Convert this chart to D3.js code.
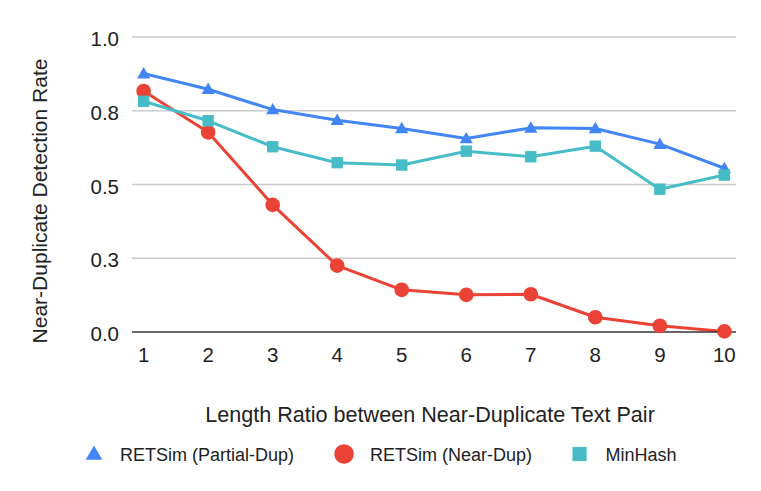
<!DOCTYPE html>
<html>
<head>
<meta charset="utf-8">
<script src="https://cdn.jsdelivr.net/npm/d3@7"></script>
<style>
  body { margin: 0; background: #fff; }
  text { font-family: "Liberation Sans", Arial, sans-serif; fill: #222; }
</style>
</head>
<body>
<div id="chart"></div>
<script>
const ratios = [1, 2, 3, 4, 5, 6, 7, 8, 9, 10];
const partialDup = [0.876, 0.823, 0.754, 0.718, 0.690, 0.656, 0.692, 0.690, 0.637, 0.555];
const nearDup = [0.817, 0.677, 0.431, 0.225, 0.143, 0.126, 0.128, 0.050, 0.021, 0.002];
const minHash = [0.782, 0.716, 0.628, 0.574, 0.566, 0.613, 0.594, 0.630, 0.484, 0.532];
const yTicks = [0, 0.25, 0.5, 0.75, 1.0];
const seriesNames = ["RETSim (Partial-Dup)", "RETSim (Near-Dup)", "MinHash"];

const series = [
  { name: seriesNames[0], values: partialDup, color: "#4285f4", shape: "triangle" },
  { name: seriesNames[1], values: nearDup, color: "#ea4335", shape: "circle" },
  { name: seriesNames[2], values: minHash, color: "#46bdc6", shape: "square" },
];

const width = 761, height = 491;
const margin = { top: 37, right: 25, bottom: 159, left: 132 };
const innerW = width - margin.left - margin.right;
const innerH = height - margin.top - margin.bottom;

const svg = d3.select("#chart").append("svg")
  .attr("width", width).attr("height", height);

const g = svg.append("g")
  .attr("transform", `translate(${margin.left},${margin.top})`);

const x = d3.scaleLinear().domain([0.82, 10.18]).range([0, innerW]);
const y = d3.scaleLinear().domain([0, 1]).range([innerH, 0]);

// gridlines
g.selectAll("line.grid")
  .data(yTicks.filter(d => d > 0))
  .join("line")
  .attr("class", "grid")
  .attr("x1", 0).attr("x2", innerW)
  .attr("y1", d => y(d)).attr("y2", d => y(d))
  .attr("stroke", "#cccccc").attr("stroke-width", 1.5);

// y tick labels
g.selectAll("text.ytick")
  .data(yTicks)
  .join("text")
  .attr("class", "ytick")
  .attr("x", -13)
  .attr("y", d => y(d))
  .attr("dy", "0.45em")
  .attr("text-anchor", "end")
  .style("font-size", "20.5px")
  .text(d => d3.format(".1f")(d));

// x tick labels
g.selectAll("text.xtick")
  .data(ratios)
  .join("text")
  .attr("class", "xtick")
  .attr("x", d => x(d))
  .attr("y", innerH + 30)
  .attr("text-anchor", "middle")
  .style("font-size", "20.5px")
  .text(d => d);

const line = d3.line()
  .x((d, i) => x(ratios[i]))
  .y(d => y(d));

const symbolFor = {
  triangle: d3.symbol().type(d3.symbolTriangle).size(75),
  circle: d3.symbol().type(d3.symbolCircle).size(170),
  square: d3.symbol().type(d3.symbolSquare).size(130),
};

series.forEach(s => {
  g.append("path")
    .datum(s.values)
    .attr("fill", "none")
    .attr("stroke", s.color)
    .attr("stroke-width", 3)
    .attr("stroke-linejoin", "round")
    .attr("d", line);
});

// baseline drawn over lines
g.append("line")
  .attr("x1", 0).attr("x2", innerW)
  .attr("y1", y(0)).attr("y2", y(0))
  .attr("stroke", "#333").attr("stroke-width", 1.5);

series.forEach(s => {
  g.selectAll(null)
    .data(s.values)
    .join("path")
    .attr("transform", (d, i) => `translate(${x(ratios[i])},${y(d) + (s.shape === "triangle" ? 1 : 0)})`)
    .attr("fill", s.color)
    .attr("d", symbolFor[s.shape]());
});

// axis titles
svg.append("text")
  .attr("x", 430)
  .attr("y", 421.5)
  .attr("text-anchor", "middle")
  .style("font-size", "21.6px")
  .text("Length Ratio between Near-Duplicate Text Pair");

svg.append("text")
  .attr("transform", "translate(47,201) rotate(-90)")
  .attr("text-anchor", "middle")
  .style("font-size", "21px")
  .text("Near-Duplicate Detection Rate");

// legend
const legendSymbols = {
  triangle: d3.symbol().type(d3.symbolTriangle).size(120),
  circle: d3.symbol().type(d3.symbolCircle).size(300),
  square: d3.symbol().type(d3.symbolSquare).size(200),
};
let lx = 85;
const ly = 454;
series.forEach(s => {
  const item = svg.append("g");
  const half = s.shape === "circle" ? 10 : s.shape === "triangle" ? 9 : 7.5;
  item.append("path")
    .attr("transform", `translate(${lx + half},${ly + (s.shape === "triangle" ? 1 : 0)})`)
    .attr("fill", s.color)
    .attr("d", legendSymbols[s.shape]());
  const t = item.append("text")
    .attr("x", lx + half + 26)
    .attr("y", ly)
    .attr("dy", "0.38em")
    .style("font-size", "18px")
    .text(s.name);
  lx = lx + half + 26 + t.node().getComputedTextLength() + 40;
});
</script>
</body>
</html>
